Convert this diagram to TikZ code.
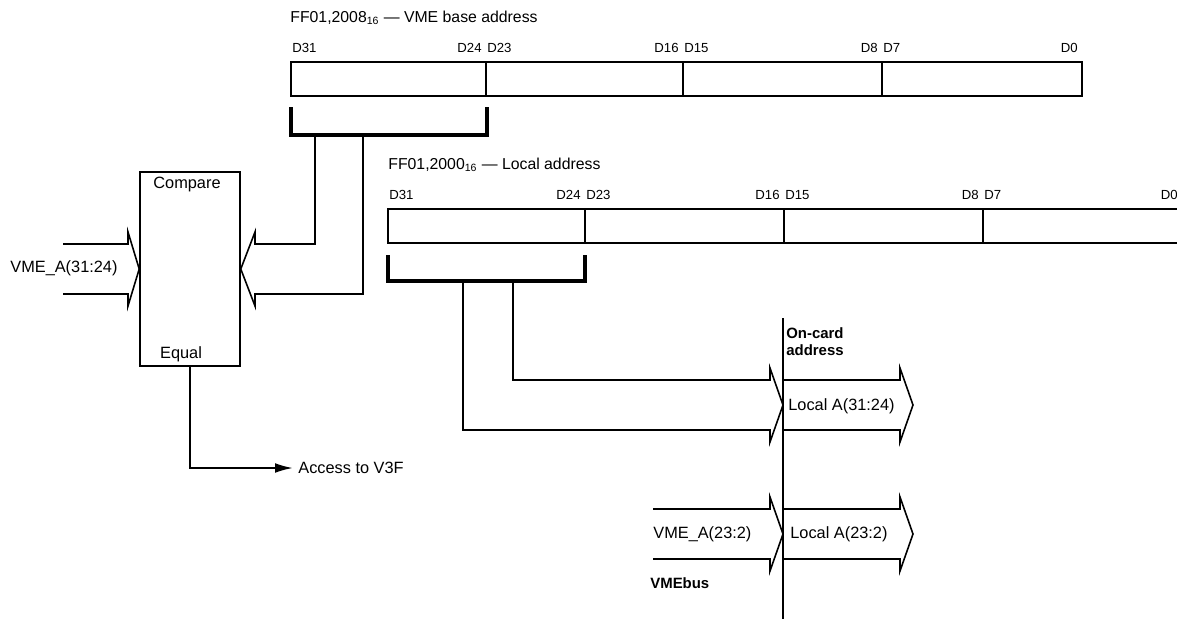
\documentclass[tikz,border=0pt]{standalone}
\usepackage{fontspec}
\setmainfont{Liberation Sans}
\usetikzlibrary{arrows.meta,positioning}

\tikzset{
  txt/.style={inner sep=0pt, font=\fontsize{9.3}{11}\selectfont},
  ttl/.style={inner sep=0pt, anchor=west, font=\fontsize{9}{11}\selectfont},
  bit/.style={inner sep=0pt, font=\fontsize{7.5}{9}\selectfont},
  boldtxt/.style={inner sep=0pt, font=\fontsize{8.5}{9.6}\selectfont\bfseries},
  wire/.style={line width=0.9pt},
  brace/.style={line width=1.8pt},
}

\begin{document}
\begin{tikzpicture}[x=0.02cm, y=-0.02cm, line join=miter]
\useasboundingbox (0,0) rectangle (1177,619);
\clip (0,0) rectangle (1177,619);

% VME base address register
\node[ttl] (basettl) at (290,18) {FF01,2008\textsubscript{16} --- VME base address};
\foreach \xa/\xb/\hi/\lo [count=\n] in {291/486/31/24, 486/683/23/16, 683/882/15/8, 882/1082/7/0} {
  \draw[wire] (\xa,62) rectangle (\xb,96);
  \node[bit, anchor=west] (basehi\n) at (\xa+1,48) {D\hi};
  \node[bit, anchor=east] (baselo\n) at (\xb-4,48) {D\lo};
}

% local address register
\node[ttl] (locttl) at (388,165) {FF01,2000\textsubscript{16} --- Local address};
\foreach \xa/\xb/\hi/\lo [count=\n] in {388/585/31/24, 585/784/23/16, 784/983/15/8, 983/1182/7/0} {
  \draw[wire] (\xa,209) rectangle (\xb,243);
  \node[bit, anchor=west] (lochi\n) at (\xa+1,195) {D\hi};
  \node[bit, anchor=east] (loclo\n) at (\xb-4,195) {D\lo};
}

% comparator
\node[draw, wire, minimum width=2cm, minimum height=3.88cm, inner sep=0pt] (cmp) at (190,269) {};
\node[txt] (cmpttl) at (187,184) {Compare};
\node[txt] (eq) at (181,354) {Equal};

\draw[brace] (291,107) -- (291,135) -- (487,135) -- (487,107);
\coordinate (tapA) at (315,135);
\coordinate (tapB) at (363,135);
\draw[wire] (tapA) |- (255,244) -- (255,232) -- (cmp.east) -- (255,306) -- (255,294) -| (tapB);

\coordinate (inA) at (63,244);
\coordinate (inB) at (63,294);
\draw[wire] (inA) -- (128,244) -- (128,232) -- (cmp.west) -- (128,306) -- (128,294) -- (inB);
\node[txt, anchor=west] (vmehi) at (10,268) {VME\_A(31:24)};

\node[txt, anchor=west] (acc) at (298,468) {Access to V3F};
\draw[wire, -{Latex[length=10pt, width=5.5pt]}, shorten >=3pt] (cmp.south) |- (acc.west);

% on-card side
\draw[brace] (388,255) -- (388,281) -- (585,281) -- (585,255);
\coordinate (tapC) at (463,281);
\coordinate (tapD) at (513,281);
\coordinate (divtop) at (783,318);
\coordinate (divbot) at (783,619);
\draw[wire] (divtop) -- (divbot);
\node[boldtxt, anchor=north west, align=left] (oncard) at (786,327) {On-card\\address};

\coordinate (tipA) at (783,405);
\coordinate (outA) at (913,405);
\draw[wire] (tapD) |- (770,380) -- (770,368) -- (tipA) -- (770,442) -- (770,430) -| (tapC);
\draw[wire] (783,380) -- (900,380) -- (900,368) -- (outA) -- (900,442) -- (900,430) -- (783,430);
\node[txt, anchor=west] (loca) at (788,406) {Local A(31:24)};

\coordinate (tipB) at (783,534);
\coordinate (outB) at (913,534);
\draw[wire] (653,509) -- (770,509) -- (770,497) -- (tipB) -- (770,571) -- (770,559) -- (653,559);
\draw[wire] (783,509) -- (900,509) -- (900,497) -- (outB) -- (900,571) -- (900,559) -- (783,559);
\node[txt, anchor=west] (vmelo) at (653,534) {VME\_A(23:2)};
\node[txt, anchor=west] (locb) at (790,534) {Local A(23:2)};
\node[boldtxt, anchor=west] (vmebus) at (650,583) {VMEbus};
\end{tikzpicture}
\end{document}
